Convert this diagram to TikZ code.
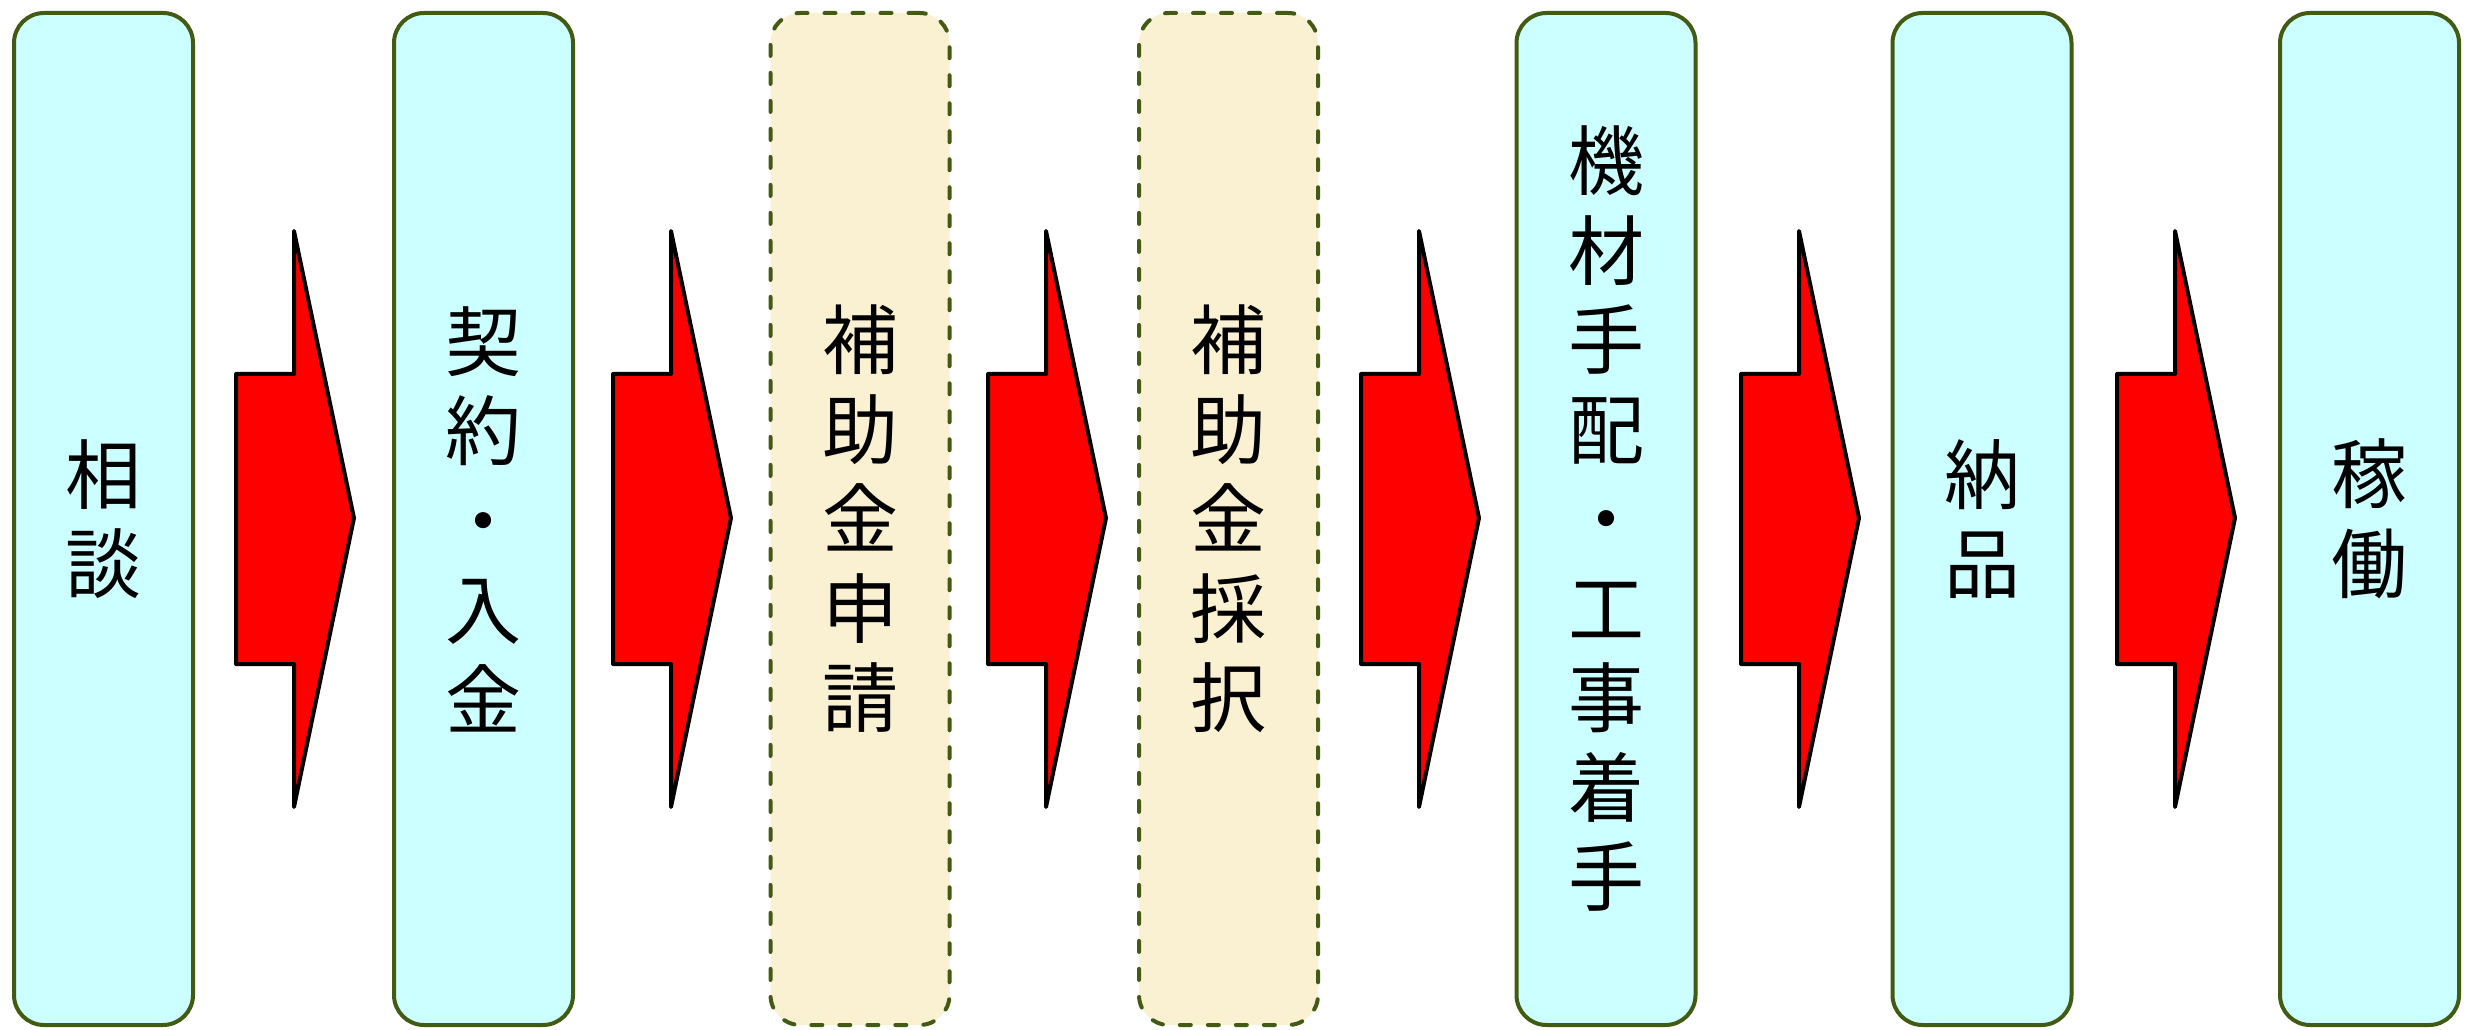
\documentclass[tikz,border=0pt]{standalone}
\usepackage{fontspec}
\newfontfamily\jp{Noto Sans CJK JP}
\definecolor{boxline}{HTML}{435A12}
\definecolor{cyanfill}{HTML}{CCFFFF}
\definecolor{wheatfill}{HTML}{FAF0D2}
\begin{document}
\begin{tikzpicture}[x=1pt,y=1pt,
  box/.style={draw=boxline, line width=4pt, rounded corners=30pt,
    minimum width=179pt, minimum height=1012pt, inner sep=0pt,
    font=\jp\fontsize{76}{89.5}\selectfont, align=center},
  solidbox/.style={box, fill=cyanfill},
  dashbox/.style={box, fill=wheatfill, dash pattern=on 11pt off 17pt, line cap=round},
  blockarrow/.style={draw=black, fill=red, line width=4pt, line join=round}]
\useasboundingbox (0,0) rectangle (2467,1029);
\node[solidbox] (b1) at (103.5,510) {相\\談};
\node[solidbox] (b2) at (483.5,510) {契\\約\\・\\入\\金};
\node[dashbox]  (b3) at (860,510) {補\\助\\金\\申\\請};
\node[dashbox]  (b4) at (1228.5,510) {補\\助\\金\\採\\択};
\node[solidbox] (b5) at (1606,510) {機\\材\\手\\配\\・\\工\\事\\着\\手};
\node[solidbox] (b6) at (1982,510) {納\\品};
\node[solidbox] (b7) at (2369.5,510) {稼\\働};
\foreach \t in {236,613,988,1361,1741,2117}
  \draw[blockarrow] (\t,365) -- (\t,655) -- (\t+58,655) -- (\t+58,798)
    -- (\t+118,511) -- (\t+58,222) -- (\t+58,365) -- cycle;
\end{tikzpicture}
\end{document}
